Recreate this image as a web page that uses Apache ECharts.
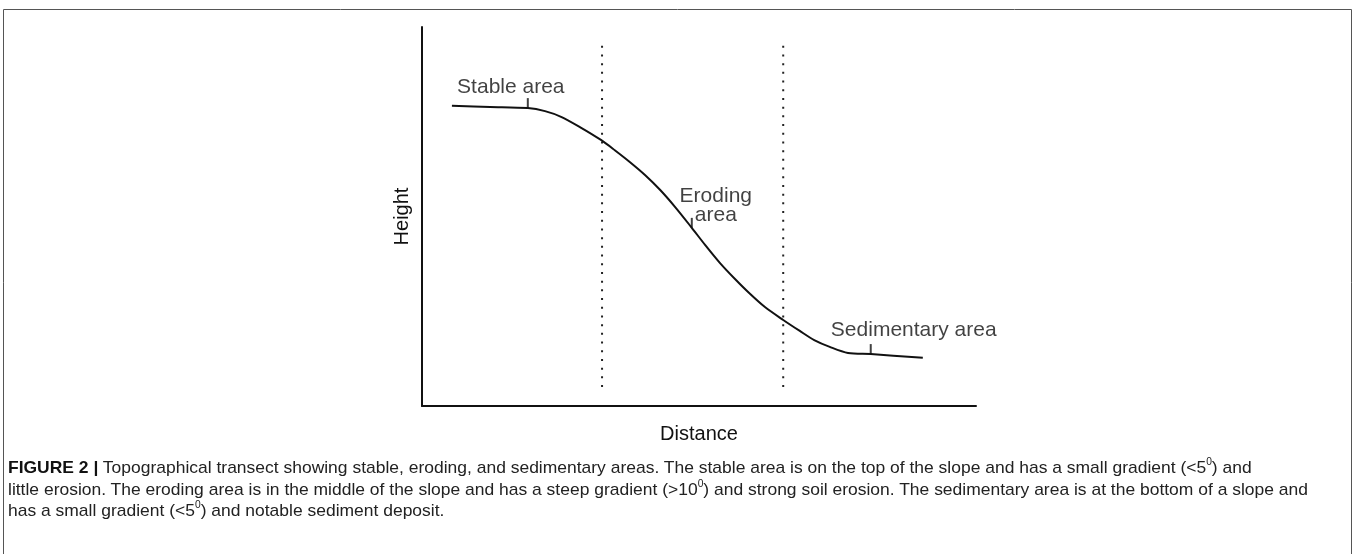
<!DOCTYPE html>
<html>
<head>
<meta charset="utf-8">
<script src="https://cdn.jsdelivr.net/npm/echarts@6/dist/echarts.min.js"></script>
<style>
    html, body { margin: 0; padding: 0; background: #fff; }
    #chart { width: 1355px; height: 554px; }
    .caption {
        position: absolute; left: 8px; top: 457px; width: 1340px;
        font-family: "Liberation Sans", Arial, sans-serif;
        font-size: 17px; line-height: 21.5px; color: #222;
    }
    .caption .line { white-space: nowrap; transform-origin: 0 50%; width: max-content; }
    .caption b { color: #111; }
    .caption sup { font-size: 10px; line-height: 0; position: relative; top: -1px; }
</style>
</head>
<body>
<div id="chart"></div>
<div class="caption">
    <div class="line"><b>FIGURE 2 |</b> Topographical transect showing stable, eroding, and sedimentary areas. The stable area is on the top of the slope and has a small gradient (&lt;5<sup>0</sup>) and</div>
    <div class="line">little erosion. The eroding area is in the middle of the slope and has a steep gradient (&gt;10<sup>0</sup>) and strong soil erosion. The sedimentary area is at the bottom of a slope and</div>
    <div class="line">has a small gradient (&lt;5<sup>0</sup>) and notable sediment deposit.</div>
</div>
<script>
    // transect profile, distance / height in relative units (0-100)
    var profileX = [5.4, 12.3, 19.1, 22.2, 25.1, 28.5, 32.3, 34.8, 37.5, 40.3, 43.0, 45.7, 48.6, 51.1,
        53.8, 56.5, 59.2, 61.9, 65.2, 68.2, 70.8, 73.6, 76.9, 81.0, 90.4];
    var profileY = [79.2, 78.9, 78.6, 77.8, 76.3, 73.6, 70.2, 67.5, 64.4, 60.9, 57.0, 52.5, 47.2, 42.5,
        37.7, 33.5, 29.6, 26.1, 22.7, 19.8, 17.4, 15.6, 14.0, 13.7, 12.7];

    // zone markers on the profile
    var zoneNames = ['Stable area', 'Eroding\narea', 'Sedimentary area'];
    var zoneX = [19.1, 48.7, 81.0];
    var zoneY = [78.6, 47.0, 13.7];

    // dotted boundaries between zones
    var dividerX = [32.5, 65.2];
    var dividerSpan = [5.0, 95.8];

    var labelOffsets = [[-17, -16], [24, -17], [43, -19]];
    // caption: longest line is fitted to this width, others use the same squeeze
    var captionRefWidth = 1300;

    const myChart = echarts.init(document.getElementById('chart'));

    var profile = profileX.map(function (x, i) { return [x, profileY[i]]; });
    var markers = zoneX.map(function (x, i) {
        return {
            value: [x, zoneY[i]],
            label: { formatter: zoneNames[i], offset: labelOffsets[i] }
        };
    });
    var dividerSeries = dividerX.map(function (x) {
        return {
            type: 'line',
            data: [[x, dividerSpan[0]], [x, dividerSpan[1]]],
            symbol: 'none',
            silent: true,
            lineStyle: { color: '#222', width: 2, type: [2, 6.7] }
        };
    });

    const option = {
        animation: false,
        textStyle: { fontFamily: 'Liberation Sans' },
        graphic: [{
            type: 'rect',
            shape: { x: 3.5, y: 9.5, width: 1348, height: 600 },
            style: { fill: 'none', stroke: '#555', lineWidth: 1 }
        }],
        grid: { left: 422, top: 27, width: 554, height: 379 },
        xAxis: {
            type: 'value', min: 0, max: 100,
            name: 'Distance', nameLocation: 'middle', nameGap: 18,
            nameTextStyle: { fontSize: 20, color: '#111' },
            axisLine: { lineStyle: { color: '#111', width: 2 } },
            axisTick: { show: false }, axisLabel: { show: false }, splitLine: { show: false }
        },
        yAxis: {
            type: 'value', min: 0, max: 100,
            name: 'Height', nameLocation: 'middle', nameGap: 10,
            nameTextStyle: { fontSize: 20, color: '#111' },
            axisLine: { show: true, lineStyle: { color: '#111', width: 2 } },
            axisTick: { show: false }, axisLabel: { show: false }, splitLine: { show: false }
        },
        series: dividerSeries.concat([
            {
                type: 'line',
                data: profile,
                smooth: 0.3,
                symbol: 'none',
                lineStyle: { color: '#111', width: 2 }
            },
            {
                type: 'scatter',
                data: markers,
                symbol: 'rect',
                symbolSize: [2, 10],
                symbolOffset: [0, -5],
                itemStyle: { color: '#111' },
                label: {
                    show: true, position: 'inside',
                    fontSize: 21, color: '#111', lineHeight: 19, align: 'center'
                }
            }
        ])
    };
    myChart.setOption(option);

    // squeeze the caption uniformly so the longest line fits the reference width
    var lines = document.querySelectorAll('.caption .line');
    var widest = 0;
    lines.forEach(function (el) { widest = Math.max(widest, el.getBoundingClientRect().width); });
    var k = captionRefWidth / widest;
    lines.forEach(function (el) { el.style.transform = 'scaleX(' + k + ')'; });
</script>
</body>
</html>
